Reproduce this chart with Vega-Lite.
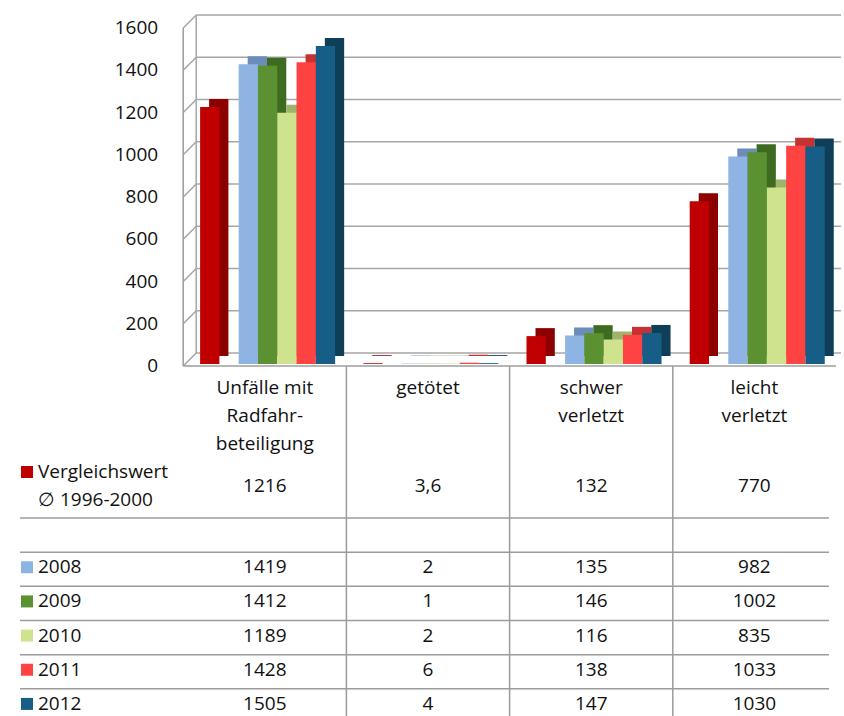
{
  "$schema": "https://vega.github.io/schema/vega-lite/v6.json",
  "background": "white",
  "padding": {"left": 19, "top": 14, "right": 0, "bottom": 0},
  "config": {
    "view": {"stroke": null},
    "font": "Open Sans",
    "locale": {"number": {"decimal": ",", "thousands": ".", "grouping": [3], "currency": ["", " €"]}},
    "text": {"font": "Open Sans", "fontSize": 19, "color": "#111111"}
  },
  "columns": 1,
  "spacing": 0,
  "bounds": "flush",
  "datasets": {
    "bars": [
      {"cat": "Unfälle mit Radfahrbeteiligung", "series": "Vergleichswert", "value": 1216},
      {"cat": "Unfälle mit Radfahrbeteiligung", "series": "2008", "value": 1419},
      {"cat": "Unfälle mit Radfahrbeteiligung", "series": "2009", "value": 1412},
      {"cat": "Unfälle mit Radfahrbeteiligung", "series": "2010", "value": 1189},
      {"cat": "Unfälle mit Radfahrbeteiligung", "series": "2011", "value": 1428},
      {"cat": "Unfälle mit Radfahrbeteiligung", "series": "2012", "value": 1505},
      {"cat": "getötet", "series": "Vergleichswert", "value": 3.6},
      {"cat": "getötet", "series": "2008", "value": 2},
      {"cat": "getötet", "series": "2009", "value": 1},
      {"cat": "getötet", "series": "2010", "value": 2},
      {"cat": "getötet", "series": "2011", "value": 6},
      {"cat": "getötet", "series": "2012", "value": 4},
      {"cat": "schwer verletzt", "series": "Vergleichswert", "value": 132},
      {"cat": "schwer verletzt", "series": "2008", "value": 135},
      {"cat": "schwer verletzt", "series": "2009", "value": 146},
      {"cat": "schwer verletzt", "series": "2010", "value": 116},
      {"cat": "schwer verletzt", "series": "2011", "value": 138},
      {"cat": "schwer verletzt", "series": "2012", "value": 147},
      {"cat": "leicht verletzt", "series": "Vergleichswert", "value": 770},
      {"cat": "leicht verletzt", "series": "2008", "value": 982},
      {"cat": "leicht verletzt", "series": "2009", "value": 1002},
      {"cat": "leicht verletzt", "series": "2010", "value": 835},
      {"cat": "leicht verletzt", "series": "2011", "value": 1033},
      {"cat": "leicht verletzt", "series": "2012", "value": 1030}
    ],
    "ticks": [{"v": 0}, {"v": 200}, {"v": 400}, {"v": 600}, {"v": 800}, {"v": 1000}, {"v": 1200}, {"v": 1400}, {"v": 1600}],
    "header": [
      {"col": "Unfälle mit Radfahrbeteiligung", "line": "h1", "text": "Unfälle mit"},
      {"col": "Unfälle mit Radfahrbeteiligung", "line": "h2", "text": "Radfahr-"},
      {"col": "Unfälle mit Radfahrbeteiligung", "line": "h3", "text": "beteiligung"},
      {"col": "getötet", "line": "h1", "text": "getötet"},
      {"col": "schwer verletzt", "line": "h1", "text": "schwer"},
      {"col": "schwer verletzt", "line": "h2", "text": "verletzt"},
      {"col": "leicht verletzt", "line": "h1", "text": "leicht"},
      {"col": "leicht verletzt", "line": "h2", "text": "verletzt"}
    ],
    "labels": [
      {"row": "Vergleichswert", "line": "v1", "text": "Vergleichswert"},
      {"row": "Vergleichswert", "line": "v2", "text": "∅ 1996-2000"},
      {"row": "2008", "line": "", "text": "2008"},
      {"row": "2009", "line": "", "text": "2009"},
      {"row": "2010", "line": "", "text": "2010"},
      {"row": "2011", "line": "", "text": "2011"},
      {"row": "2012", "line": "", "text": "2012"}
    ],
    "cols": [{"col": "getötet"}, {"col": "schwer verletzt"}, {"col": "leicht verletzt"}],
    "rows": [{"row": "leer"}, {"row": "2008"}, {"row": "2009"}, {"row": "2010"}, {"row": "2011"}, {"row": "2012"}]
  },
  "concat": [
    {
      "width": 816,
      "height": 338,
      "resolve": {"scale": {"color": "independent", "xOffset": "independent"}},
      "layer": [
        {
          "data": {"name": "ticks"},
          "mark": {"type": "rule", "color": "#a6a6a6", "strokeWidth": 1.5, "xOffset": 13, "x2Offset": 5, "yOffset": -13},
          "encoding": {
            "y": {"field": "v", "type": "quantitative", "scale": {"domain": [0, 1600], "nice": false}, "axis": null},
            "x": {"datum": "Unfälle mit Radfahrbeteiligung", "type": "nominal", "bandPosition": 0, "axis": null,
                  "scale": {"type": "band", "domain": ["label", "Unfälle mit Radfahrbeteiligung", "getötet", "schwer verletzt", "leicht verletzt"], "paddingInner": 0, "paddingOuter": 0}},
            "x2": {"datum": "leicht verletzt", "bandPosition": 1}
          }
        },
        {
          "data": {"name": "ticks"},
          "mark": {"type": "rule", "color": "#a6a6a6", "strokeWidth": 1.5, "x2Offset": 13, "y2Offset": -13},
          "encoding": {
            "y": {"field": "v", "type": "quantitative", "axis": null},
            "y2": {"field": "v"},
            "x": {"datum": "Unfälle mit Radfahrbeteiligung", "type": "nominal", "bandPosition": 0, "axis": null},
            "x2": {"datum": "Unfälle mit Radfahrbeteiligung", "bandPosition": 0}
          }
        },
        {
          "data": {"name": "ticks"},
          "transform": [{"filter": "datum.v == 0"}],
          "mark": {"type": "rule", "color": "#a6a6a6", "strokeWidth": 1.5, "xOffset": 13, "yOffset": -13, "y2Offset": -13},
          "encoding": {
            "y": {"field": "v", "type": "quantitative", "axis": null},
            "y2": {"datum": 1600},
            "x": {"datum": "Unfälle mit Radfahrbeteiligung", "type": "nominal", "bandPosition": 0, "axis": null}
          }
        },
        {
          "data": {"name": "ticks"},
          "transform": [{"filter": "datum.v == 0"}],
          "mark": {"type": "rule", "color": "#9c9c9c", "strokeWidth": 1.5},
          "encoding": {
            "y": {"field": "v", "type": "quantitative", "axis": null},
            "x": {"datum": "Unfälle mit Radfahrbeteiligung", "type": "nominal", "bandPosition": 0, "axis": null},
            "x2": {"datum": "leicht verletzt", "bandPosition": 1}
          }
        },
        {
          "data": {"name": "ticks"},
          "transform": [{"filter": "datum.v == 0"}],
          "mark": {"type": "rule", "color": "#9c9c9c", "strokeWidth": 1.5},
          "encoding": {
            "y": {"field": "v", "type": "quantitative", "axis": null},
            "y2": {"datum": 1600},
            "x": {"datum": "Unfälle mit Radfahrbeteiligung", "type": "nominal", "bandPosition": 0, "axis": null}
          }
        },
        {
          "data": {"name": "ticks"},
          "mark": {"type": "text", "align": "right", "baseline": "middle", "dx": -25, "font": "Open Sans", "fontSize": 19, "color": "#111111"},
          "encoding": {
            "y": {"field": "v", "type": "quantitative", "axis": null},
            "x": {"datum": "Unfälle mit Radfahrbeteiligung", "type": "nominal", "bandPosition": 0, "axis": null},
            "text": {"field": "v", "type": "quantitative", "format": "d"}
          }
        },
        {
          "data": {"name": "bars"},
          "mark": {"type": "bar", "yOffset": -10, "y2Offset": -4},
          "encoding": {
            "x": {"field": "cat", "type": "nominal", "axis": null},
            "xOffset": {"field": "series", "type": "nominal",
                        "scale": {"domain": ["Vergleichswert", "leer", "2008", "2009", "2010", "2011", "2012"], "paddingInner": 0, "paddingOuter": 0.73, "align": 0.92}},
            "y": {"field": "value", "type": "quantitative", "axis": null},
            "color": {"field": "series", "type": "nominal", "legend": null,
                      "scale": {"domain": ["Vergleichswert", "leer", "2008", "2009", "2010", "2011", "2012"],
                                "range": ["#8C0000", "#FFFFFF", "#6C8CBA", "#3D6B20", "#9EB46A", "#C63232", "#0E3E58"]}}
          }
        },
        {
          "data": {"name": "bars"},
          "mark": {"type": "bar", "yOffset": -2, "y2Offset": -2},
          "encoding": {
            "x": {"field": "cat", "type": "nominal", "axis": null},
            "xOffset": {"field": "series", "type": "nominal",
                        "scale": {"domain": ["Vergleichswert", "leer", "2008", "2009", "2010", "2011", "2012"], "paddingInner": 0, "paddingOuter": 0.73, "align": 0.6}},
            "y": {"field": "value", "type": "quantitative", "axis": null},
            "color": {"field": "series", "type": "nominal", "legend": null,
                      "scale": {"domain": ["Vergleichswert", "leer", "2008", "2009", "2010", "2011", "2012"],
                                "range": ["#C00000", "#FFFFFF", "#8EB4E3", "#5B9130", "#CFE28D", "#FF4343", "#175E86"]}}
          }
        }
      ]
    },
    {
      "width": 816,
      "height": 152,
      "layer": [
        {
          "data": {"name": "cols"},
          "mark": {"type": "rule", "color": "#9c9c9c", "strokeWidth": 1.5},
          "encoding": {
            "x": {"field": "col", "type": "nominal", "bandPosition": 0, "axis": null,
                  "scale": {"type": "band", "domain": ["label", "Unfälle mit Radfahrbeteiligung", "getötet", "schwer verletzt", "leicht verletzt"], "paddingInner": 0, "paddingOuter": 0}}
          }
        },
        {
          "data": {"name": "header"},
          "mark": {"type": "text", "align": "center", "baseline": "middle"},
          "encoding": {
            "x": {"field": "col", "type": "nominal", "axis": null},
            "y": {"field": "line", "type": "nominal", "axis": null,
                  "scale": {"type": "band", "domain": ["h1", "h2", "h3", "v1", "v2"], "paddingInner": 0, "paddingOuter": 0.214, "align": 0.667}},
            "text": {"field": "text"}
          }
        },
        {
          "data": {"name": "labels"},
          "transform": [{"filter": "datum.row == 'Vergleichswert'"}],
          "mark": {"type": "text", "align": "left", "baseline": "middle", "dx": 18},
          "encoding": {
            "x": {"datum": "label", "type": "nominal", "bandPosition": 0, "axis": null},
            "y": {"field": "line", "type": "nominal", "axis": null},
            "text": {"field": "text"}
          }
        },
        {
          "data": {"name": "labels"},
          "transform": [{"filter": "datum.line == 'v1'"}],
          "mark": {"type": "point", "shape": "square", "size": 144, "filled": true, "opacity": 1, "color": "#C00000", "xOffset": 7},
          "encoding": {
            "x": {"datum": "label", "type": "nominal", "bandPosition": 0, "axis": null},
            "y": {"field": "line", "type": "nominal", "axis": null}
          }
        },
        {
          "data": {"name": "bars"},
          "transform": [{"filter": "datum.series == 'Vergleichswert'"}],
          "mark": {"type": "text", "align": "center", "baseline": "middle"},
          "encoding": {
            "x": {"field": "cat", "type": "nominal", "axis": null},
            "y": {"datum": "v1", "type": "nominal", "bandPosition": 1, "axis": null},
            "text": {"field": "value", "type": "quantitative", "format": "~g"}
          }
        }
      ]
    },
    {
      "width": 816,
      "height": 198,
      "layer": [
        {
          "data": {"name": "cols"},
          "mark": {"type": "rule", "color": "#9c9c9c", "strokeWidth": 1.5},
          "encoding": {
            "x": {"field": "col", "type": "nominal", "bandPosition": 0, "axis": null,
                  "scale": {"type": "band", "domain": ["label", "Unfälle mit Radfahrbeteiligung", "getötet", "schwer verletzt", "leicht verletzt"], "paddingInner": 0, "paddingOuter": 0}}
          }
        },
        {
          "data": {"name": "rows"},
          "mark": {"type": "rule", "color": "#9c9c9c", "strokeWidth": 1.5, "xOffset": -7, "x2Offset": 2},
          "encoding": {
            "y": {"field": "row", "type": "nominal", "bandPosition": 0, "axis": null,
                  "scale": {"type": "band", "domain": ["leer", "2008", "2009", "2010", "2011", "2012"], "range": [0, 205], "paddingInner": 0, "paddingOuter": 0}}
          }
        },
        {
          "data": {"name": "labels"},
          "transform": [{"filter": "datum.row != 'Vergleichswert'"}],
          "mark": {"type": "text", "align": "left", "baseline": "middle", "dx": 18, "dy": -2},
          "encoding": {
            "x": {"datum": "label", "type": "nominal", "bandPosition": 0, "axis": null},
            "y": {"field": "row", "type": "nominal", "axis": null},
            "text": {"field": "text"}
          }
        },
        {
          "data": {"name": "labels"},
          "transform": [{"filter": "datum.row != 'Vergleichswert'"}],
          "mark": {"type": "point", "shape": "square", "size": 144, "filled": true, "opacity": 1, "xOffset": 7, "yOffset": -2},
          "encoding": {
            "x": {"datum": "label", "type": "nominal", "bandPosition": 0, "axis": null},
            "y": {"field": "row", "type": "nominal", "axis": null},
            "color": {"field": "row", "type": "nominal", "legend": null,
                      "scale": {"domain": ["2008", "2009", "2010", "2011", "2012"], "range": ["#8EB4E3", "#5B9130", "#CFE28D", "#FF4343", "#175E86"]}}
          }
        },
        {
          "data": {"name": "bars"},
          "transform": [{"filter": "datum.series != 'Vergleichswert'"}],
          "mark": {"type": "text", "align": "center", "baseline": "middle", "dy": -2},
          "encoding": {
            "x": {"field": "cat", "type": "nominal", "axis": null},
            "y": {"field": "series", "type": "nominal", "axis": null},
            "text": {"field": "value", "type": "quantitative", "format": "~g"}
          }
        }
      ]
    }
  ]
}
